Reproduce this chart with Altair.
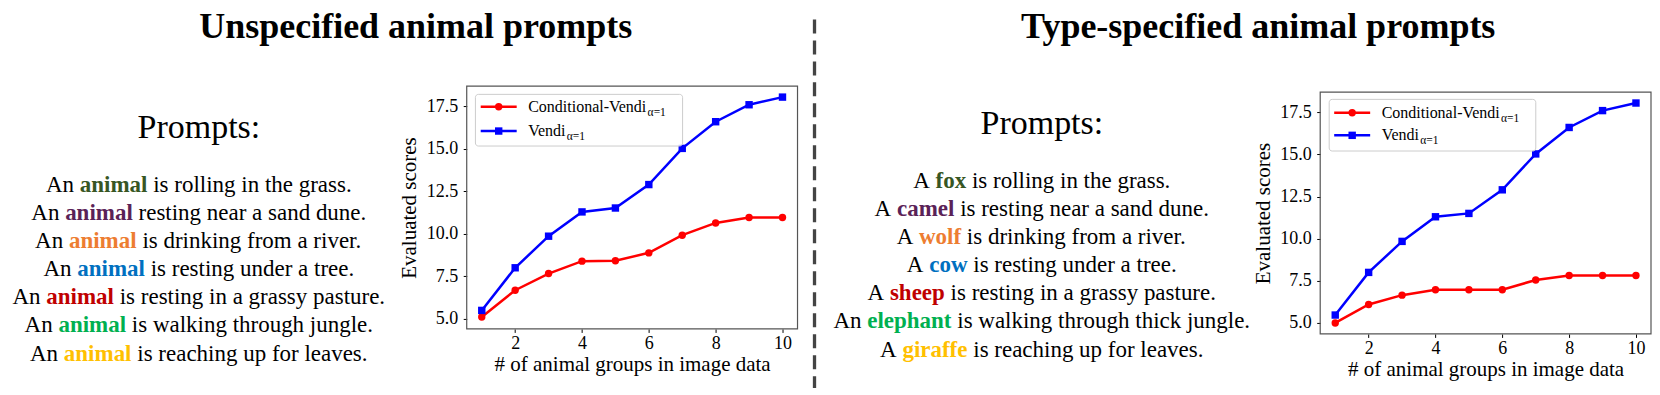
import altair as alt
import pandas as pd

# ---------------- data ----------------
X_GROUPS = [1, 2, 3, 4, 5, 6, 7, 8, 9, 10]
LEFT_VENDI = [5.49, 8.0, 9.86, 11.29, 11.52, 12.9, 15.03, 16.6, 17.6, 18.05]
LEFT_COND = [5.1, 6.68, 7.66, 8.39, 8.41, 8.88, 9.92, 10.64, 10.96, 10.96]
RIGHT_VENDI = [5.47, 8.0, 9.84, 11.3, 11.5, 12.9, 15.03, 16.6, 17.6, 18.05]
RIGHT_COND = [5.0, 6.1, 6.65, 6.97, 6.97, 6.97, 7.55, 7.82, 7.82, 7.82]
SERIES = ["Conditional-Vendi", "Vendi"]
SUBSCRIPT = "α=1"
X_TICKS = [2, 4, 6, 8, 10]
Y_TICKS = [5.0, 7.5, 10.0, 12.5, 15.0, 17.5]

TITLES = ["Unspecified animal prompts", "Type-specified animal prompts"]
PROMPTS_HEADER = "Prompts:"
LEFT_PREFIX = ["An", "An", "An", "An", "An", "An", "An"]
LEFT_WORDS = ["animal", "animal", "animal", "animal", "animal", "animal", "animal"]
LEFT_SUFFIX = [
    "is rolling in the grass.",
    "resting near a sand dune.",
    "is drinking from a river.",
    "is resting under a tree.",
    "is resting in a grassy pasture.",
    "is walking through jungle.",
    "is reaching up for leaves.",
]
RIGHT_PREFIX = ["A", "A", "A", "A", "A", "An", "A"]
RIGHT_WORDS = ["fox", "camel", "wolf", "cow", "sheep", "elephant", "giraffe"]
RIGHT_SUFFIX = [
    "is rolling in the grass.",
    "is resting near a sand dune.",
    "is drinking from a river.",
    "is resting under a tree.",
    "is resting in a grassy pasture.",
    "is walking through thick jungle.",
    "is reaching up for leaves.",
]

# ---------------- styles ----------------
SERIF = "Liberation Serif"
WORD_COLORS = ["#375623", "#5a2257", "#ED7D31", "#0070C0", "#C00000", "#00B050", "#FFC000"]
SERIES_COLORS = ["#ff0000", "#0000ff"]
SERIES_SHAPES = ["circle", "square"]

# Times-compatible advance widths (per 1000 em) for layout of mixed-style lines
REG = {' ': 250, 'A': 722, 'a': 444, 'b': 500, 'c': 444, 'd': 500, 'e': 444, 'f': 333, 'g': 500,
       'h': 500, 'i': 278, 'j': 278, 'k': 500, 'l': 278, 'm': 778, 'n': 500, 'o': 500, 'p': 500,
       'q': 500, 'r': 333, 's': 389, 't': 278, 'u': 500, 'v': 500, 'w': 722, 'x': 500, 'y': 500,
       'z': 444, '.': 250, '-': 333, 'C': 667, 'V': 722}
BOLD = {'a': 500, 'b': 556, 'c': 444, 'd': 556, 'e': 444, 'f': 333, 'g': 500, 'h': 556, 'i': 278,
        'j': 333, 'k': 556, 'l': 278, 'm': 833, 'n': 556, 'o': 500, 'p': 556, 'q': 556, 'r': 444,
        's': 389, 't': 333, 'u': 556, 'v': 500, 'w': 722, 'x': 500, 'y': 500, 'z': 444}


def tw(s, table, fs):
    return sum(table.get(c, 500) for c in s) * fs / 1000.0


tiny = pd.DataFrame({"a": [0]})
PANEL_H = 379


def prompt_panel(title, title_x, cx, header_y, y0, prefixes, words, suffixes, W, divider=False):
    fs = 23
    step = 28.2
    sp = tw(" ", REG, fs)
    rows = []
    for i, (pre, word, suf) in enumerate(zip(prefixes, words, suffixes)):
        wpre, wword, wsuf = tw(pre, REG, fs), tw(word, BOLD, fs), tw(suf, REG, fs)
        total = wpre + sp + wword + sp + wsuf
        x0 = cx - total / 2
        rows.append(dict(row=i, text=pre, x=x0, color="#000000", bold=0))
        rows.append(dict(row=i, text=word, x=x0 + wpre + sp, color=WORD_COLORS[i], bold=1))
        rows.append(dict(row=i, text=suf, x=x0 + wpre + sp + wword + sp, color="#000000", bold=0))
    df = pd.DataFrame(rows)
    yscale = alt.Scale(domain=[0, len(prefixes) - 1], range=[y0, y0 + step * (len(prefixes) - 1)])
    enc = dict(
        x=alt.X("x:Q", scale=None, axis=None),
        y=alt.Y("row:Q", scale=yscale, axis=None),
        text="text:N",
        color=alt.Color("color:N", scale=None, legend=None),
    )
    base = alt.Chart(df)
    reg = base.transform_filter("datum.bold == 0").mark_text(
        align="left", baseline="alphabetic", font=SERIF, fontSize=fs).encode(**enc)
    bld = base.transform_filter("datum.bold == 1").mark_text(
        align="left", baseline="alphabetic", font=SERIF, fontSize=fs, fontWeight="bold").encode(**enc)
    ttl = alt.Chart(tiny).mark_text(
        text=title, align="center", baseline="alphabetic", font=SERIF, fontSize=36,
        fontWeight="bold", color="#000").encode(x=alt.value(title_x), y=alt.value(28.7))
    hdr = alt.Chart(tiny).mark_text(
        text=PROMPTS_HEADER, align="center", baseline="alphabetic", font=SERIF, fontSize=34,
        color="#000").encode(x=alt.value(cx), y=alt.value(header_y))
    layers = [ttl, hdr, reg, bld]
    if divider:
        rule = alt.Chart(tiny).mark_rule(strokeDash=[14, 7], strokeWidth=3.3, color="#444444").encode(
            x=alt.value(17), y=alt.value(10.3), y2=alt.value(PANEL_H))
        layers.append(rule)
    return alt.layer(*layers).properties(width=W, height=PANEL_H)


def legend_layers(top, box, y_red, y_blue):
    x0, x1, y0, y1 = box
    out = [alt.Chart(tiny).mark_rect(fill="white", fillOpacity=0.8, stroke="#cccccc", strokeWidth=1,
                                    cornerRadius=3).encode(
        x=alt.value(x0), x2=alt.value(x1), y=alt.value(top + y0), y2=alt.value(top + y1))]
    for name, col, shp, yy in zip(SERIES, SERIES_COLORS, SERIES_SHAPES, [y_red, y_blue]):
        yy = top + yy
        out.append(alt.Chart(tiny).mark_rule(color=col, strokeWidth=2.5).encode(
            x=alt.value(14), x2=alt.value(50), y=alt.value(yy)))
        out.append(alt.Chart(tiny).mark_point(shape=shp, filled=True, color=col, size=55, opacity=1).encode(
            x=alt.value(32), y=alt.value(yy)))
        out.append(alt.Chart(tiny).mark_text(text=name, align="left", baseline="alphabetic", font=SERIF,
                                             fontSize=16, color="#000").encode(
            x=alt.value(61.5), y=alt.value(yy + 5)))
        out.append(alt.Chart(tiny).mark_text(text=SUBSCRIPT, align="left", baseline="alphabetic", font=SERIF,
                                             fontSize=11.5, color="#000").encode(
            x=alt.value(61.5 + tw(name, REG, 16) - 0.5), y=alt.value(yy + 8.8)))
    return out


def score_chart(vendi, cond, ydomain, W, top, bottom, box, y_red, y_blue):
    df = pd.DataFrame({
        "x": X_GROUPS * 2,
        "score": cond + vendi,
        "series": [SERIES[0]] * len(X_GROUPS) + [SERIES[1]] * len(X_GROUPS),
    })
    xenc = alt.X("x:Q", scale=alt.Scale(domain=[0.55, 10.45], nice=False, zero=False),
                 axis=alt.Axis(values=X_TICKS, format="d", title="# of animal groups in image data",
                               grid=False, domain=False, tickSize=3.5, tickColor="#000", labelFlush=False,
                               labelFontSize=18, labelFont=SERIF, labelColor="#000", labelPadding=2,
                               offset=bottom - PANEL_H,
                               titleFont=SERIF, titleFontSize=21, titleFontWeight="normal",
                               titleColor="#000", titleX=W / 2, titleY=42, titleBaseline="alphabetic",
                               titleAlign="center"))
    yenc = alt.Y("score:Q", scale=alt.Scale(domain=ydomain, nice=False, zero=False, range=[bottom, top]),
                 axis=alt.Axis(values=Y_TICKS, format=".1f", title="Evaluated scores",
                               grid=False, domain=False, tickSize=3.5, tickColor="#000", labelFlush=False,
                               labelFontSize=18, labelFont=SERIF, labelColor="#000", labelPadding=5.5,
                               titleFont=SERIF, titleFontSize=21, titleFontWeight="normal",
                               titleColor="#000", titleX=-51, titleY=(top + bottom) / 2, titleAngle=270,
                               titleBaseline="alphabetic", titleAlign="center"))
    color = alt.Color("series:N", scale=alt.Scale(domain=SERIES, range=SERIES_COLORS), legend=None)
    shape = alt.Shape("series:N", scale=alt.Scale(domain=SERIES, range=SERIES_SHAPES), legend=None)
    layers = []
    for s in SERIES:
        b = alt.Chart(df).transform_filter(alt.datum.series == s)
        layers.append(b.mark_line(strokeWidth=2.5).encode(x=xenc, y=yenc, color=color))
        layers.append(b.mark_point(filled=True, opacity=1, size=55).encode(x=xenc, y=yenc, color=color, shape=shape))
    layers += legend_layers(top, box, y_red, y_blue)
    frame = alt.Chart(tiny).mark_rect(fillOpacity=0, fill="white", stroke="#555555", strokeWidth=1.2).encode(
        x=alt.value(0), x2=alt.value(W), y=alt.value(top), y2=alt.value(bottom))
    layers.append(frame)
    return alt.layer(*layers).properties(width=W, height=PANEL_H)


text_left = prompt_panel(TITLES[0], 408, 191, 128.5, 182.5, LEFT_PREFIX, LEFT_WORDS, LEFT_SUFFIX, 459)
text_right = prompt_panel(TITLES[1], 461, 244.5, 125.3, 178.5, RIGHT_PREFIX, RIGHT_WORDS, RIGHT_SUFFIX, 523,
                          divider=True)
chart_left = score_chart(LEFT_VENDI, LEFT_COND, [4.4, 18.7], 331, 77, 320, (8.7, 216, 8.3, 60), 20.7, 45)
chart_right = score_chart(RIGHT_VENDI, RIGHT_COND, [4.35, 18.7], 331, 83, 325, (9, 215.7, 7.3, 59), 20.7, 43.3)

chart = alt.hconcat(text_left, chart_left, text_right, chart_right, spacing=0, bounds="flush").properties(
    padding={"left": 0, "top": 0, "right": 0, "bottom": 0}
).configure_view(stroke=None)

chart.save("out.html", embed_options={"renderer": "svg", "actions": False})
